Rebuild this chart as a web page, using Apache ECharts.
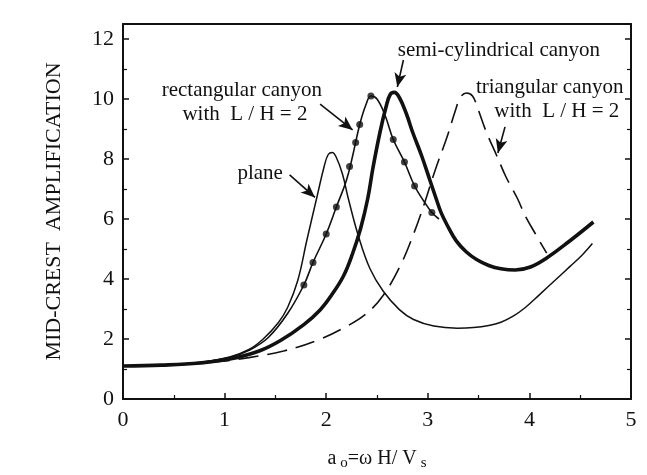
<!DOCTYPE html>
<html>
<head>
<meta charset="utf-8">
<script src="https://cdn.jsdelivr.net/npm/echarts@6/dist/echarts.min.js"></script>
<style>html,body{margin:0;padding:0;background:#fff;}#c{width:647px;height:475px;}</style>
</head>
<body>
<div id="c"></div>
<script>
// ---- data (x = a_o, y = mid-crest amplification) ----
const planeCurve = [[0,1.1],[0.38,1.13],[0.76,1.22],[1.05,1.4],[1.24,1.65],[1.38,2.0],[1.53,2.55],[1.62,3.05],[1.72,3.95],[1.81,5.3],[1.91,6.75],[1.98,7.75],[2.02,8.15],[2.06,8.22],[2.10,8.05],[2.16,7.5],[2.22,6.65],[2.32,5.4],[2.43,4.35],[2.56,3.6],[2.72,2.98],[2.86,2.65],[3.06,2.43],[3.29,2.36],[3.45,2.38],[3.6,2.45],[3.72,2.56],[3.84,2.76],[3.96,3.05],[4.1,3.48],[4.25,3.95],[4.4,4.42],[4.52,4.8],[4.62,5.18]];
const rectCurve = [[0,1.1],[0.38,1.13],[0.76,1.22],[1.05,1.38],[1.24,1.62],[1.43,2.05],[1.62,2.85],[1.78,3.8],[1.87,4.55],[2.0,5.5],[2.1,6.4],[2.2,7.3],[2.26,8.1],[2.33,9.15],[2.39,9.8],[2.44,10.1],[2.5,10.0],[2.58,9.45],[2.66,8.65],[2.77,7.9],[2.87,7.1],[2.96,6.6],[3.04,6.22],[3.11,6.0]];
const rectDots = [[1.78,3.8],[1.87,4.55],[2.0,5.5],[2.1,6.4],[2.23,7.75],[2.29,8.55],[2.33,9.15],[2.44,10.1],[2.66,8.65],[2.77,7.9],[2.87,7.1],[3.04,6.22]];
const semiCurve = [[0,1.1],[0.38,1.13],[0.76,1.2],[1.05,1.33],[1.34,1.6],[1.55,1.95],[1.78,2.48],[1.94,2.97],[2.05,3.45],[2.17,4.1],[2.26,4.85],[2.34,5.7],[2.41,6.7],[2.46,7.7],[2.53,8.9],[2.59,9.75],[2.63,10.15],[2.67,10.22],[2.72,10.05],[2.79,9.5],[2.85,8.9],[2.94,8.1],[3.02,7.3],[3.08,6.7],[3.13,6.22],[3.19,5.8],[3.28,5.27],[3.38,4.9],[3.48,4.65],[3.6,4.45],[3.72,4.34],[3.86,4.3],[4.01,4.4],[4.17,4.7],[4.39,5.25],[4.63,5.9]];
const triCurve = [[0,1.1],[0.48,1.13],[0.95,1.25],[1.24,1.38],[1.58,1.6],[1.91,1.95],[2.2,2.42],[2.4,2.86],[2.56,3.45],[2.73,4.45],[2.86,5.5],[2.96,6.45],[3.07,7.6],[3.19,8.74],[3.27,9.6],[3.32,10.05],[3.38,10.2],[3.44,10.1],[3.49,9.7],[3.57,8.95],[3.68,8.1],[3.77,7.4],[3.88,6.7],[3.96,6.1],[4.06,5.5],[4.17,4.86]];
// annotation texts (anchor in data coords) and arrows (from -> to, data coords)
const notes = [
  {text:'semi-cylindrical canyon', at:[3.70,11.63]},
  {text:'rectangular canyon', at:[1.17,10.3]},
  {text:'with  L / H = 2', at:[1.20,9.47]},
  {text:'triangular canyon', at:[4.2,10.4]},
  {text:'with  L / H = 2', at:[4.27,9.6]},
  {text:'plane', at:[1.35,7.53]}
];
const arrows = [
  [[1.64,7.47],[1.89,6.72]],
  [[1.94,9.83],[2.26,8.97]],
  [[2.76,11.3],[2.70,10.4]],
  [[3.76,9.07],[3.69,8.2]]
];
const xTickValues = [0,1,2,3,4,5];
const yTickValues = [0,2,4,6,8,10,12];

const FONT = '"Liberation Serif","Times New Roman",serif';
const chart = echarts.init(document.getElementById('c'), null, {renderer:'canvas'});
const black = '#111';
const axisCommon = {
  axisLine:{show:true, onZero:false, lineStyle:{color:black, width:2}},
  splitLine:{show:false},
  axisTick:{show:true, inside:true, length:6, lineStyle:{color:black, width:1.5}},
  minorTick:{show:true, splitNumber:2, length:4, lineStyle:{color:black, width:1.2}},
};
const option = {
  backgroundColor:'#fff',
  animation:false,
  grid:{left:123, right:16, top:24, bottom:76, outerBoundsMode:'none', containLabel:false},
  xAxis:[{
    type:'value', min:0, max:5, interval:1, ...axisCommon,
    axisLabel:{color:black, fontFamily:FONT, fontSize:22, margin:10,
      formatter:v=> xTickValues.includes(v)? String(v):''},
    name:'{a|a}{sub|o}{a|=ω H/ V}{sub|s}',
    nameLocation:'middle', nameGap:47,
    nameTextStyle:{rich:{
      a:{fontFamily:FONT, fontSize:20, color:black},
      sub:{fontFamily:FONT, fontSize:15, color:black, padding:[10,0,0,4]}
    }}
  },{
    type:'value', position:'top', min:0, max:5, interval:1,
    axisLine:{show:true, onZero:false, lineStyle:{color:black, width:2}},
    axisTick:{show:false}, axisLabel:{show:false}, splitLine:{show:false}
  }],
  yAxis:[{
    type:'value', min:0, max:12.5, interval:2, ...axisCommon,
    axisLabel:{color:black, fontFamily:FONT, fontSize:22, margin:9,
      formatter:v=> yTickValues.includes(v)? String(v):''},
    name:'MID-CREST  AMPLIFICATION', nameLocation:'middle', nameGap:58, nameRotate:90,
    nameTextStyle:{fontFamily:FONT, fontSize:22, color:black}
  },{
    type:'value', position:'right', min:0, max:12.5, interval:2, ...axisCommon,
    axisLabel:{show:false}
  }],
  series:[
    {type:'line', data:planeCurve, smooth:0.4, showSymbol:false, lineStyle:{color:black, width:1.5}},
    {type:'line', data:rectCurve, smooth:0.4, showSymbol:false, lineStyle:{color:black, width:1.6}},
    {type:'scatter', data:rectDots, symbol:'circle', symbolSize:7, itemStyle:{color:black}},
    {type:'line', data:semiCurve, smooth:0.4, showSymbol:false, lineStyle:{color:black, width:3.6}},
    {type:'line', data:triCurve, smooth:0.4, showSymbol:false, lineStyle:{color:black, width:1.6, type:[20,9]}},
    {type:'line', data:[], silent:true,
      markLine:{silent:true, animation:false, symbol:['none','arrow'], symbolSize:[9,14],
        lineStyle:{color:black, width:1.6, type:'solid'}, label:{show:false},
        data: arrows.map(a=>[{coord:a[0]},{coord:a[1]}])},
      markPoint:{silent:true, symbol:'rect', symbolSize:[1,1], itemStyle:{color:'rgba(0,0,0,0)'},
        label:{show:true, position:'inside', color:black, fontFamily:FONT, fontSize:21,
          formatter:p=>p.name},
        data: notes.map(n=>({name:n.text, coord:n.at}))}
    }
  ]
};
chart.setOption(option);
</script>
</body>
</html>
